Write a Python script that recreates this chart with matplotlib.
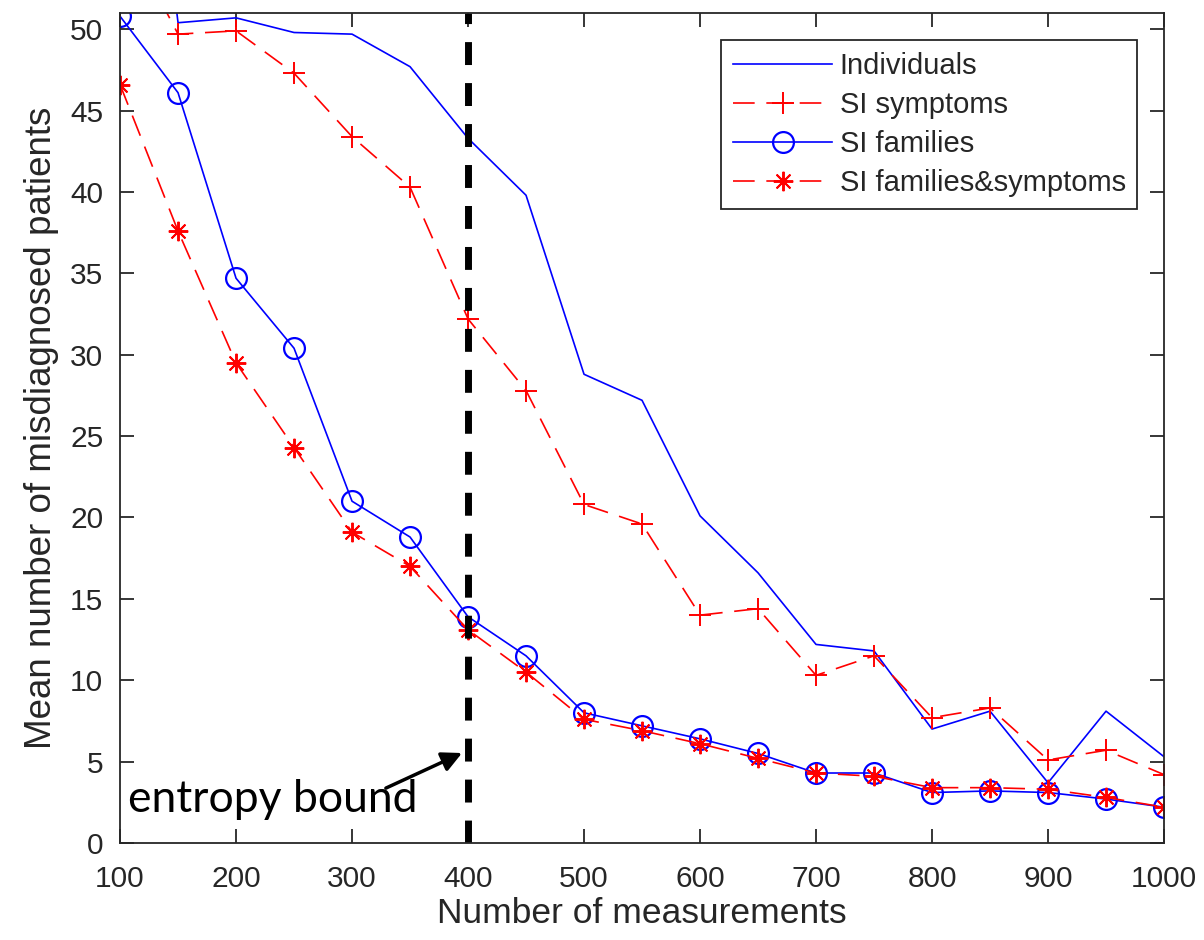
# misdiagnosed patients vs number of measurements

import numpy as np
import matplotlib
matplotlib.use('Agg')
import matplotlib.pyplot as plt

plt.rcParams['font.family'] = ['Liberation Sans', 'DejaVu Sans']

n_meas = [100, 150, 200, 250, 300, 350, 400, 450, 500, 550,
          600, 650, 700, 750, 800, 850, 900, 950, 1000]
individuals = [80.0, 50.4, 50.7, 49.8, 49.7, 47.7, 43.3, 39.8, 28.8, 27.2,
               20.1, 16.6, 12.2, 11.8, 7.0, 8.1, 3.7, 8.1, 5.3]
si_symptoms = [56.5, 49.7, 49.9, 47.3, 43.4, 40.3, 32.2, 27.8, 20.8, 19.6,
               14.0, 14.4, 10.3, 11.5, 7.7, 8.3, 5.1, 5.7, 4.2]
si_families = [50.8, 46.1, 34.7, 30.4, 21.0, 18.8, 13.9, 11.5, 8.0, 7.2,
               6.4, 5.5, 4.3, 4.3, 3.1, 3.2, 3.1, 2.7, 2.2]
si_fam_symp = [46.6, 37.6, 29.5, 24.3, 19.1, 17.0, 13.1, 10.5, 7.6, 6.9,
               6.1, 5.2, 4.3, 4.1, 3.4, 3.4, 3.3, 2.8, 2.2]
entropy_bound = 400

fig = plt.figure(figsize=(12.04, 9.40), dpi=100)
ax = fig.add_axes([0.0997, 0.1032, 0.8671, 0.8830])

lw = 1.2
ax.plot(n_meas, individuals, color='b', lw=lw, label='Individuals')
ax.plot(n_meas, si_symptoms, color='r', lw=lw, ls='--', dashes=(13, 7),
        marker='+', ms=16, mew=1.4, label='SI symptoms')
ax.plot(n_meas, si_families, color='b', lw=lw, marker='o', ms=15,
        mfc='none', mew=1.6, label='SI families')
# matlab style asterisk: 8 spokes
ax.plot(n_meas, si_fam_symp, color='r', lw=lw, ls='--', dashes=(13, 7),
        marker=(8, 2, 0), ms=14, mew=1.4, label='SI families&symptoms')

ax.axvline(entropy_bound, color='k', lw=5, ls='--', dashes=(3.3, 2.6))

ax.annotate('', xy=(397, 5.6), xytext=(327, 3.3),
            arrowprops=dict(arrowstyle='-|>', color='k', lw=2.5,
                            mutation_scale=30))
ax.text(107, 1.9, 'entropy bound', fontsize=32, family=['Lato', 'DejaVu Sans'],
        color='k')

ax.set_xlim(100, 1000)
ax.set_ylim(0, 51)
ax.set_xticks(np.arange(100, 1001, 100))
ax.set_yticks(np.arange(0, 51, 5))

gray = '#262626'
for s in ax.spines.values():
    s.set_color(gray)
    s.set_linewidth(1.3)
ax.tick_params(direction='in', length=10, width=1.3, color=gray,
               labelsize=21.5, labelcolor=gray, top=True, right=True)
ax.tick_params(axis='x', pad=16)
ax.tick_params(axis='y', pad=12)

ax.set_xlabel('Number of measurements', fontsize=25.5, color=gray, labelpad=3)
ax.set_ylabel('Mean number of misdiagnosed patients', fontsize=26.5,
              color=gray, labelpad=8)

leg = ax.legend(loc='upper right', bbox_to_anchor=(0.9745, 0.967),
                fontsize=21, handlelength=3.4, handletextpad=0.25,
                labelspacing=0.38, borderpad=0.4, borderaxespad=0,
                fancybox=False, framealpha=1, edgecolor=gray)
leg.get_frame().set_linewidth(1.3)
for t in leg.get_texts():
    t.set_color(gray)

fig.savefig('out.png', dpi=100)
